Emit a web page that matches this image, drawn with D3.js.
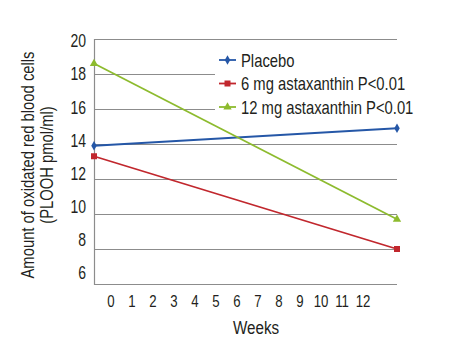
<!DOCTYPE html>
<html>
<head>
<meta charset="utf-8">
<script src="https://cdn.jsdelivr.net/npm/d3@7"></script>
<style>
  body { margin: 0; background: #fff; }
  text { font-family: "Liberation Sans", Arial, sans-serif; fill: #231f20; }
</style>
</head>
<body>
<div id="container"></div>
<script>
// weeks measured and the readings at start / end of the study
var weeks = [0, 12]
var placebo = [13.9, 14.9]
var mg6 = [13.3, 8.0]
var mg12 = [18.6, 9.7]

var seriesNames = ['Placebo', '6 mg astaxanthin P<0.01', '12 mg astaxanthin P<0.01']
var yTicks = [20, 18, 16, 14, 12, 10, 8, 6]
var xTicks = [0, 1, 2, 3, 4, 5, 6, 7, 8, 9, 10, 11, 12]

var colours = ['#2557a7', '#c1272d', '#8dbb2e']
var shapes = [d3.symbolDiamond, d3.symbolSquare, d3.symbolTriangle]
var sizes = [26, 36, 30]

var width = 450
var height = 349
var narrow = 0.8 // squeeze the sans face into a condensed look

var svg = d3.select('#container').append('svg')
  .attr('width', width)
  .attr('height', height)

var x = d3.scaleLinear().domain([0, 12]).range([94, 397])
var y = d3.scaleLinear().domain([6, 20]).range([284, 39])

// the printed tick labels sit on their own, slightly tighter spacing
var xLabel = d3.scaleLinear().domain([0, 12]).range([111, 363])
var yLabel = d3.scaleLinear().domain([6, 20]).range([273, 41])

function place (px, py) {
  return 'translate(' + px + ',' + py + ') scale(' + narrow + ',1)'
}

// gridlines
svg.append('g')
  .selectAll('line')
  .data(yTicks)
  .enter().append('line')
  .attr('x1', x(0))
  .attr('x2', x(12))
  .attr('y1', function (d) { return y(d) + 0.5 })
  .attr('y2', function (d) { return y(d) + 0.5 })
  .style('stroke', '#8c8c8c')
  .style('stroke-width', 1.2)

// left axis line
svg.append('line')
  .attr('x1', x(0) + 0.5).attr('x2', x(0) + 0.5)
  .attr('y1', y(20)).attr('y2', y(6) + 1)
  .style('stroke', '#8c8c8c')
  .style('stroke-width', 1.2)

// tick labels
svg.append('g')
  .selectAll('text')
  .data(yTicks)
  .enter().append('text')
  .attr('transform', function (d) { return place(86, yLabel(d)) })
  .attr('dy', '.36em')
  .attr('text-anchor', 'end')
  .style('font-size', '17.5px')
  .text(function (d) { return d })

svg.append('g')
  .selectAll('text')
  .data(xTicks)
  .enter().append('text')
  .attr('transform', function (d) { return place(xLabel(d), 301) })
  .attr('dy', '.36em')
  .attr('text-anchor', 'middle')
  .style('font-size', '16.5px')
  .text(function (d) { return d })

// axis titles
svg.append('text')
  .attr('transform', place(256, 334))
  .attr('text-anchor', 'middle')
  .style('font-size', '19px')
  .text('Weeks')

var yTitle = svg.append('text')
  .attr('transform', 'translate(0,165) rotate(-90) scale(' + narrow + ',1)')
  .attr('text-anchor', 'middle')
  .style('font-size', '18.5px')
yTitle.append('tspan').attr('x', 0).attr('y', 34).text('Amount of oxidated red blood cells')
yTitle.append('tspan').attr('x', 0).attr('y', 53).text('(PLOOH pmol/ml)')

// legend box covers the gridlines behind it
svg.append('rect')
  .attr('x', 215).attr('y', 47)
  .attr('width', 210).attr('height', 71)
  .style('fill', '#fff')

var series = [placebo, mg6, mg12]

var line = d3.line()
  .x(function (d, i) { return x(weeks[i]) })
  .y(function (d) { return y(d) })

var lines = svg.append('g')
  .selectAll('g')
  .data(series)
  .enter().append('g')

lines.append('path')
  .attr('d', line)
  .style('fill', 'none')
  .style('stroke', function (d, i) { return colours[i] })
  .style('stroke-width', 1.8)

lines.each(function (s, i) {
  d3.select(this).selectAll('path.pt')
    .data(s)
    .enter().append('path')
    .attr('class', 'pt')
    .attr('transform', function (d, j) { return 'translate(' + x(weeks[j]) + ',' + y(d) + ')' })
    .attr('d', d3.symbol().type(shapes[i]).size(sizes[i]))
    .style('fill', colours[i])
})

// legend
var legend = svg.append('g')
  .selectAll('g')
  .data(seriesNames)
  .enter().append('g')
  .attr('transform', function (d, i) { return 'translate(219,' + (60 + i * 23.5) + ')' })

legend.append('line')
  .attr('x1', 0).attr('x2', 17)
  .style('stroke', function (d, i) { return colours[i] })
  .style('stroke-width', 1.8)

legend.append('path')
  .attr('transform', 'translate(8.5,0)')
  .attr('d', function (d, i) { return d3.symbol().type(shapes[i]).size(sizes[i])() })
  .style('fill', function (d, i) { return colours[i] })

legend.append('text')
  .attr('transform', place(22, 0))
  .attr('dy', '.36em')
  .style('font-size', '18.5px')
  .text(function (d) { return d })
</script>
</body>
</html>
